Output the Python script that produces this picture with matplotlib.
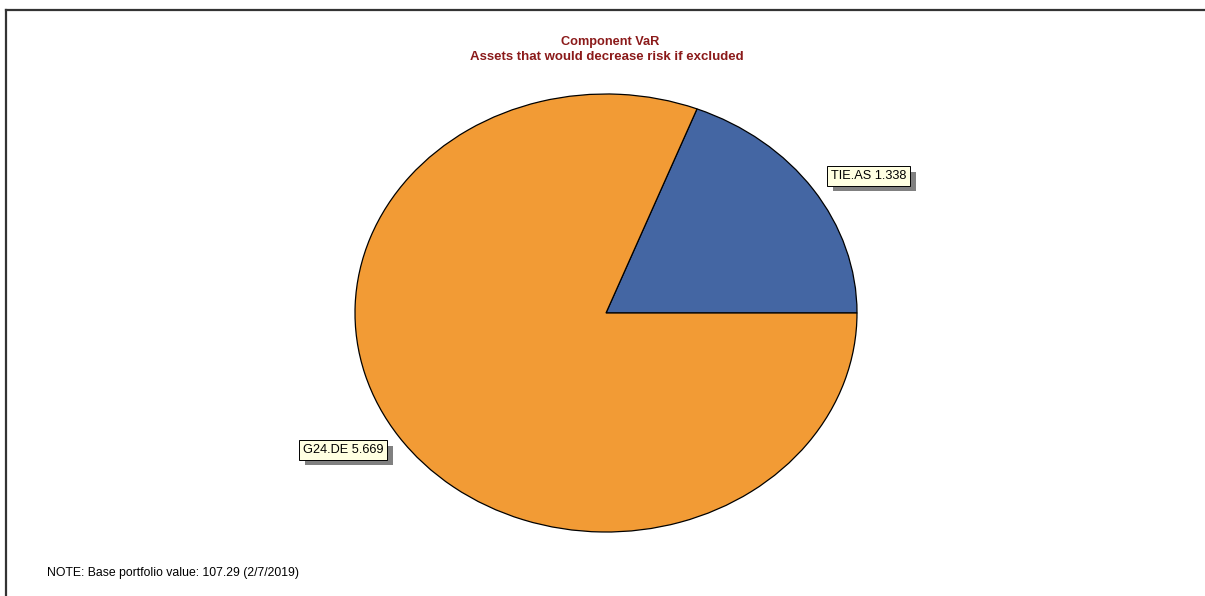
import numpy as np
import matplotlib.pyplot as plt
from matplotlib.lines import Line2D
import matplotlib.patheffects as pe

plt.rcParams["font.family"] = ["Liberation Sans", "DejaVu Sans"]

# component VaR of assets that would decrease risk if excluded
assets = ["TIE.AS", "G24.DE"]
cvar = [1.338, 5.669]
colors = ["#4466A3", "#F29B35"]

title_lines = ["Component VaR", "Assets that would decrease risk if excluded"]
note = "NOTE: Base portfolio value: 107.29 (2/7/2019)"

W, H = 1205, 596
fig = plt.figure(figsize=(W / 100, H / 100), dpi=100)

# frame lines along the top and left edges
fig.add_artist(Line2D([6 / W, 6 / W], [0, 1 - 10 / H], transform=fig.transFigure,
                      color="#333333", lw=1.6))
fig.add_artist(Line2D([6 / W, 1], [1 - 10 / H, 1 - 10 / H], transform=fig.transFigure,
                      color="#333333", lw=1.6))

# pie drawn in an axes without equal aspect so it stretches into an ellipse
ax = fig.add_axes([355 / W, 64 / H, 502 / W, 438 / H])
wedges, _ = ax.pie(cvar, colors=colors, startangle=0, counterclock=True,
                   radius=1.0, wedgeprops=dict(edgecolor="black", linewidth=0.9))
ax.set_aspect("auto")
ax.set_xlim(-1, 1)
ax.set_ylim(-1, 1)
ax.axis("off")

# value labels in boxed callouts outside each slice
for w, name, val in zip(wedges, assets, cvar):
    mid = np.deg2rad((w.theta1 + w.theta2) / 2 - 3.5)
    x, y = 1.22 * np.cos(mid), 1.22 * np.sin(mid)
    ax.text(x, y, f"{name} {val:.3f}", ha="center", va="center", fontsize=9.2,
            color="black", clip_on=False,
            bbox=dict(boxstyle="square,pad=0.3", facecolor="#FFFFE1",
                      edgecolor="black", linewidth=0.7,
                      path_effects=[pe.SimplePatchShadow(offset=(4, -4),
                                                          shadow_rgbFace="#808080",
                                                          alpha=1.0),
                                    pe.Normal()]))

fig.text(610 / W, 1 - 42 / H, title_lines[0], ha="center", va="center",
         fontsize=9.2, fontweight="bold", color="#8B1A1A")
fig.text(607 / W, 1 - 57.5 / H, title_lines[1], ha="center", va="center",
         fontsize=9.5, fontweight="bold", color="#8B1A1A")

fig.text(47 / W, 1 - 573 / H, note, ha="left", va="center", fontsize=8.8, color="black")

fig.savefig("out.png", dpi=100)
